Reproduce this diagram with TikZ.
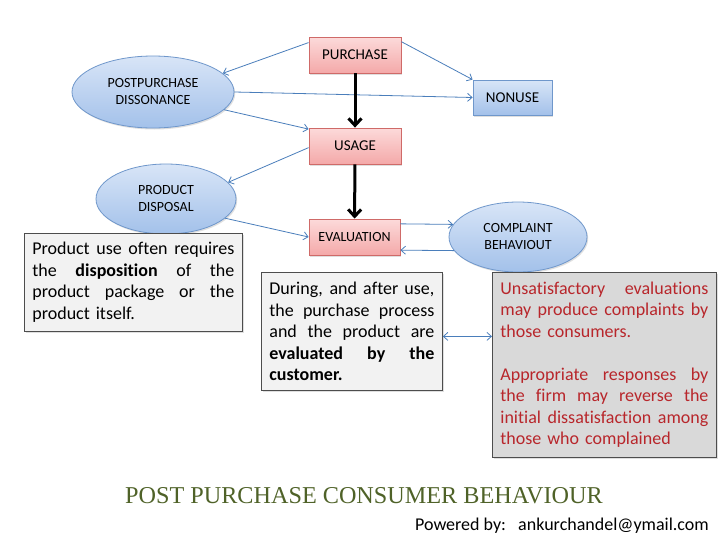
\documentclass[tikz,border=0pt]{standalone}
\usepackage{fontspec}
\setmainfont{Carlito}[Ligatures=NoCommon]
\newfontfamily\titlefont{Liberation Serif}
\usetikzlibrary{arrows.meta,shapes.geometric,shadows,calc}
\definecolor{pinktop}{HTML}{FCDADA}
\definecolor{pinkbot}{HTML}{F4A9A9}
\definecolor{pinkline}{HTML}{CF6A68}
\definecolor{bluetop}{HTML}{D8E5F7}
\definecolor{bluebot}{HTML}{A3C1EA}
\definecolor{blueline}{HTML}{6F97CB}
\definecolor{conn}{HTML}{4A7EBB}
\definecolor{boxline}{HTML}{4D4D4D}
\definecolor{lightbox}{HTML}{F2F2F2}
\definecolor{darkbox}{HTML}{D9D9D9}
\definecolor{redtext}{HTML}{B8262B}
\definecolor{olivetext}{HTML}{4F6228}
\newcommand\jl[2]{\makebox[#1]{\spaceskip=\fontdimen2\font plus 1fill\relax #2}}
\begin{document}
\begin{tikzpicture}[x=1pt,y=-1pt,
  shadowed/.style={drop shadow={opacity=0.25,shadow xshift=1.2pt,shadow yshift=-1.5pt}},
  pinkbox/.style={rectangle, draw=pinkline, line width=0.8pt, top color=pinktop, bottom color=pinkbot,
    minimum width=92pt, minimum height=36pt, inner sep=0pt, font=\fontsize{15}{17}\selectfont, shadowed},
  bluebox/.style={rectangle, draw=blueline, line width=0.8pt, top color=bluetop, bottom color=bluebot,
    minimum width=79pt, minimum height=35pt, inner sep=0pt, font=\fontsize{15}{17}\selectfont, shadowed},
  ellbox/.style={ellipse, draw=blueline, line width=0.8pt, top color=bluetop, bottom color=bluebot,
    inner sep=0pt, align=center, font=\fontsize{14}{17}\selectfont, shadowed},
  textbox/.style={rectangle, draw=boxline, line width=0.8pt, anchor=north west, inner xsep=8pt, inner ysep=0pt,
    align=left, font=\fontsize{18}{21.5}\selectfont, shadowed},
  conn/.style={draw=conn, line width=0.8pt, -{Straight Barb[length=4.5pt,width=8pt]}},
  connboth/.style={draw=conn, line width=0.8pt, {Straight Barb[length=4.5pt,width=8pt]}-{Straight Barb[length=4.5pt,width=8pt]}},
  thickarrow/.style={draw=black, line width=3pt, -{Straight Barb[length=7pt,width=13pt]}}
]
\useasboundingbox (0,0) rectangle (728,546);
\fill[white] (0,0) rectangle (728,546);

% shapes
\node[pinkbox] (purchase) at (355,55) {PURCHASE};
\node[bluebox] (nonuse) at (512.5,97.5) {NONUSE};
\node[pinkbox] (usage) at (355,146) {USAGE};
\node[pinkbox, minimum width=91pt, font=\fontsize{14}{16}\selectfont] (evaluation) at (354.5,237) {EVALUATION};
\node[ellbox, minimum width=162pt, minimum height=72pt] (pd) at (153,92) {POSTPURCHASE\\DISSONANCE};
\node[ellbox, minimum width=140pt, minimum height=70pt] (disp) at (166,199) {PRODUCT\\DISPOSAL};
\node[ellbox, minimum width=138pt, minimum height=70pt] (comp) at (518,237) {COMPLAINT\\BEHAVIOUT};

% connectors
\draw[conn] (purchase.165) -- (pd.15);
\draw[conn] (purchase.16) -- (nonuse.north west);
\draw[conn] (pd.east) -- (nonuse.west);
\draw[conn] (pd.-14) -- (usage.160);
\draw[conn] (usage.182) -- (disp.15);
\draw[conn] (disp.-18) -- (evaluation.west);
\draw[conn] (evaluation.16) -- (comp.169);
\draw[conn] (comp.-168) -- (evaluation.-16);
\draw[thickarrow] (purchase) -- (usage);
\draw[thickarrow] (usage) -- (evaluation);

% text boxes
\node[textbox, fill=lightbox, text width=202pt, minimum height=98pt] (left) at (24,233)
  {\jl{202pt}{Product use often requires}\\
   \jl{202pt}{the \textbf{disposition} of the}\\
   \jl{202pt}{product package or the}\\
   product itself.};
\node[textbox, fill=lightbox, text width=165pt, minimum height=118pt] (mid) at (261,272)
  {\jl{165pt}{During, and after use,}\\
   \jl{165pt}{the purchase process}\\
   \jl{165pt}{and the product are}\\
   \jl{165pt}{\textbf{evaluated by the}}\\
   \textbf{customer.}};
\node[textbox, fill=darkbox, text width=208pt, minimum height=185pt, text=redtext] (right) at (492,272)
  {\jl{208pt}{Unsatisfactory evaluations}\\
   \jl{208pt}{may produce complaints by}\\
   those consumers.\\[21.5pt]
   \jl{208pt}{Appropriate responses by}\\
   \jl{208pt}{the firm may reverse the}\\
   \jl{208pt}{initial dissatisfaction among}\\
   those who complained};
\coordinate (m) at ($(mid.east)+(0,5)$);
\draw[connboth] (m) -- (m -| right.west);

% footer
\node[anchor=base, text=olivetext, font=\titlefont\fontsize{24.2}{27}\selectfont, inner sep=0pt] (title) at (364,503)
  {POST PURCHASE CONSUMER BEHAVIOUR};
\node[anchor=base east, font=\fontsize{18}{20}\selectfont, inner sep=0pt] (powered) at (709,530)
  {Powered by:\ \ \ ankurchandel@ymail.com};
\end{tikzpicture}
\end{document}
